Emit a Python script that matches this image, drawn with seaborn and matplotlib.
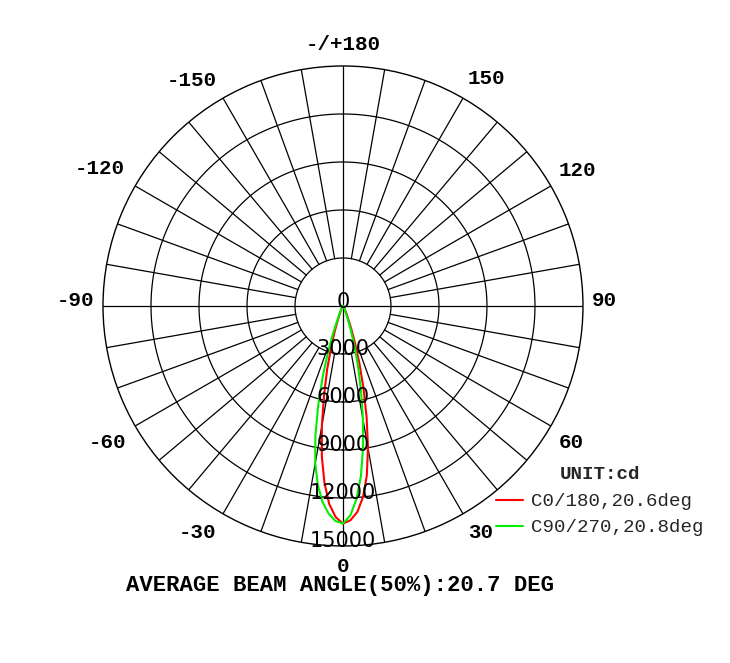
import numpy as np
import pandas as pd
import matplotlib
matplotlib.use("Agg")
import matplotlib.pyplot as plt
import seaborn as sns

# --------------------------------------------------
# DATA (candela vs. angle off axis)
# --------------------------------------------------
angles = [0, 2, 4, 6, 8, 10, 12, 14, 16, 18, 20, 25, 30, 40, 90]
c0 = [13600, 13400, 12900, 12000, 10700, 9000, 7100, 5300, 3700, 2400, 1500, 500, 150, 50, 0]
c180 = [13600, 13200, 12400, 11100, 9500, 7600, 5700, 4100, 2700, 1700, 1000, 300, 100, 30, 0]
c90 = [13600, 13100, 12100, 10700, 9000, 7200, 5400, 3900, 2600, 1600, 900, 250, 80, 20, 0]
c270 = [13600, 13450, 13000, 12300, 11300, 10000, 8300, 6400, 4600, 3000, 1800, 500, 150, 40, 0]

series_names = ["C0/180,20.6deg", "C90/270,20.8deg"]
series_colors = ["#ff0000", "#00ee00"]

ring_values = [3000, 6000, 9000, 12000, 15000]
angle_labels = ["0", "30", "60", "90", "120", "150", "-/+180", "-150", "-120", "-90", "-60", "-30"]

unit_text = "UNIT:cd"
footer_text = "AVERAGE BEAM ANGLE(50%):20.7 DEG"

# pixel centres of the angle labels (layout only)
label_px = [(343, 566), (481, 533), (571, 443), (604, 301), (577, 170), (486, 79),
            (343, 45), (192, 80), (100, 169), (75, 301), (107, 443), (198, 533)]
W, H = 730, 663


def build_frame():
    rows = []
    pairs = [(series_names[0], c180, c0), (series_names[1], c270, c90)]
    for name, left, right in pairs:
        # left half (negative angles) from -90 to 0, then right half 0 to 90
        for a, v in zip(angles[::-1], left[::-1]):
            rows.append((name, np.deg2rad(-a), v))
        for a, v in zip(angles, right):
            rows.append((name, np.deg2rad(a), v))
    return pd.DataFrame(rows, columns=["series", "theta", "cd"])


sns.set_theme(style="white")
mono = "Liberation Mono"

fig = plt.figure(figsize=(W / 100, H / 100), dpi=100)
ax = fig.add_axes([0.1411, 0.1765, 0.6575, 0.724], projection="polar")
ax.set_theta_zero_location("S")
ax.set_theta_direction(1)
rmax = ring_values[-1]
ax.set_ylim(0, rmax)
ax.grid(False)
ax.set_xticks([])
ax.set_yticks([])
ax.spines["polar"].set_color("black")
ax.spines["polar"].set_linewidth(1.0)

# grid rings
full = np.linspace(0, 2 * np.pi, 721)
for r in ring_values[:-1]:
    ax.plot(full, np.full_like(full, r), color="black", lw=0.9, zorder=1)

# spokes every 10 deg, the main axes go through the centre
for deg in range(0, 360, 10):
    t = np.deg2rad(deg)
    r0 = 0 if deg % 90 == 0 else ring_values[0]
    ax.plot([t, t], [r0, rmax], color="black", lw=0.9, zorder=1)

# curves
df = build_frame()
sns.lineplot(data=df, x="theta", y="cd", hue="series", hue_order=series_names,
             palette=dict(zip(series_names, series_colors)), sort=False,
             estimator=None, lw=1.5, ax=ax, legend=False, zorder=3)
ax.set_xlabel("")
ax.set_ylabel("")
ax.set_ylim(0, rmax)

# radial labels along the bottom axis, sitting just above each ring
ax.text(np.pi, 250, "0", ha="center", va="center", fontsize=15,
        family="DejaVu Sans", color="black", zorder=4)
for r in ring_values:
    ax.text(0, r - 330, f"{r}", ha="center", va="center", fontsize=15,
            family="DejaVu Sans", color="black", zorder=4)

# angle labels
for (px, py), lab in zip(label_px, angle_labels):
    fig.text(px / W, 1 - py / H, lab, ha="center", va="center", fontsize=15,
             family=mono, fontweight="bold", color="black")

# legend
handles = [plt.Line2D([], [], color=c, lw=1.5) for c in series_colors]
leg = fig.legend(handles, series_names, loc="upper left",
                 bbox_to_anchor=(0.680, 0.297), frameon=False,
                 prop={"family": mono, "size": 13.8},
                 handlelength=1.4, handletextpad=0.4, labelspacing=0.45,
                 borderaxespad=0, borderpad=0,
                 title=unit_text,
                 title_fontproperties={"family": mono, "size": 13.8, "weight": "bold"})
leg._legend_box.align = "center"
leg._legend_box.sep = 7

fig.text(340 / W, 1 - 585 / H, footer_text, ha="center", va="center",
         fontsize=16, family=mono, fontweight="bold", color="black")

fig.savefig("out.png", dpi=100, facecolor="white")
